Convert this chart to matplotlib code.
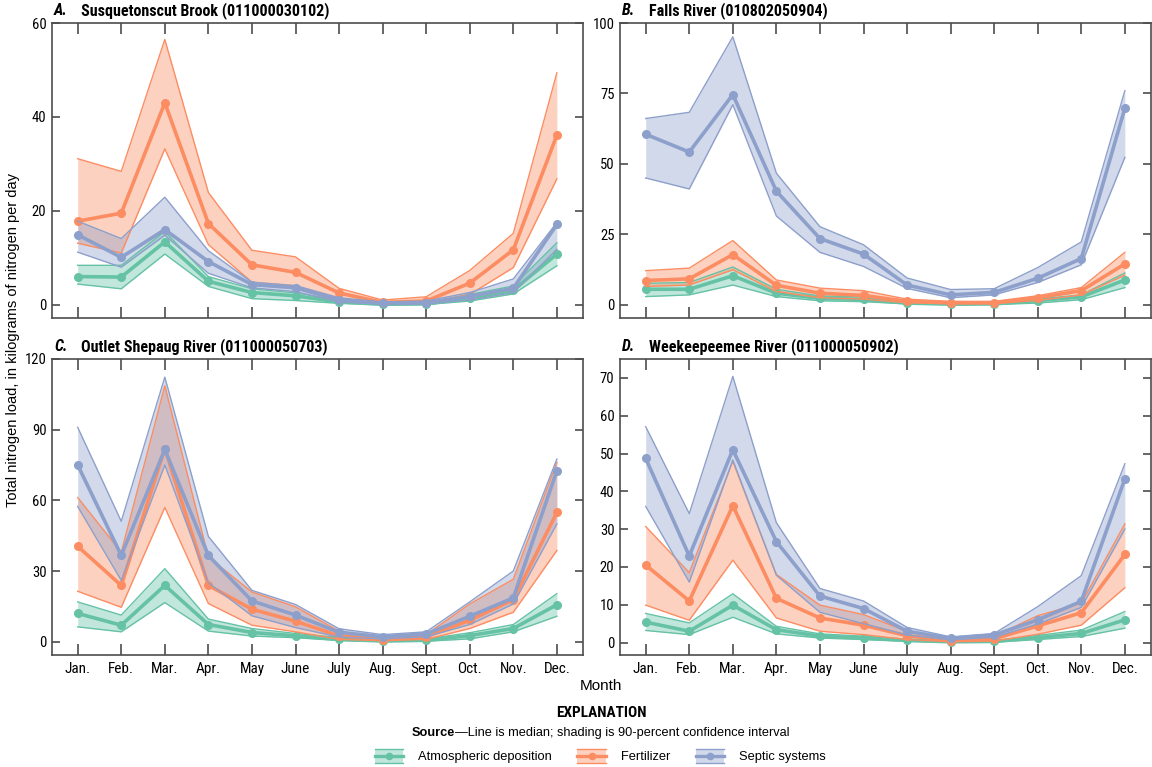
import numpy as np
import matplotlib.pyplot as plt
from matplotlib.lines import Line2D
from matplotlib.patches import Rectangle
from matplotlib.legend_handler import HandlerBase
from matplotlib.offsetbox import TextArea, HPacker, AnnotationBbox

months = ["Jan.", "Feb.", "Mar.", "Apr.", "May", "June",
          "July", "Aug.", "Sept.", "Oct.", "Nov.", "Dec."]

# A. Susquetonscut Brook
a_atm_med = [6.0, 5.9, 13.4, 5.0, 2.6, 1.9, 0.6, 0.1, 0.2, 1.4, 3.1, 10.8]
a_atm_lo = [4.4, 3.4, 10.8, 3.9, 1.3, 0.9, 0.3, 0.0, 0.05, 0.8, 2.3, 8.3]
a_atm_hi = [8.4, 8.4, 15.6, 6.0, 3.4, 2.5, 1.0, 0.3, 0.4, 2.2, 4.0, 13.2]
a_fert_med = [17.8, 19.5, 43.0, 17.3, 8.5, 6.9, 2.5, 0.5, 0.8, 4.6, 11.7, 36.1]
a_fert_lo = [13.1, 11.0, 33.2, 12.8, 4.8, 4.0, 1.2, 0.2, 0.3, 2.2, 7.9, 26.8]
a_fert_hi = [31.1, 28.4, 56.5, 23.9, 11.6, 10.2, 3.5, 1.0, 1.7, 7.3, 15.2, 49.4]
a_sep_med = [14.9, 10.1, 16.0, 9.2, 4.3, 3.6, 1.0, 0.3, 0.4, 1.8, 3.5, 17.1]
a_sep_lo = [11.2, 8.0, 14.8, 6.7, 3.6, 2.8, 0.6, 0.1, 0.2, 1.0, 2.6, 11.8]
a_sep_hi = [17.8, 14.1, 22.9, 11.5, 4.8, 4.1, 1.5, 0.6, 0.8, 2.6, 5.5, 17.5]

# B. Falls River
b_atm_med = [5.5, 5.5, 10.3, 4.1, 2.3, 1.9, 0.6, 0.2, 0.3, 1.5, 2.8, 8.8]
b_atm_lo = [2.9, 3.5, 7.0, 2.9, 1.4, 1.1, 0.3, 0.1, 0.1, 0.6, 1.8, 6.1]
b_atm_hi = [7.6, 7.9, 13.4, 5.5, 3.1, 2.9, 1.0, 0.4, 0.5, 2.0, 3.5, 11.3]
b_fert_med = [8.6, 9.2, 17.8, 6.9, 4.1, 3.3, 1.2, 0.7, 0.7, 2.5, 5.0, 14.5]
b_fert_lo = [6.5, 7.0, 12.4, 4.7, 2.5, 2.0, 0.7, 0.4, 0.4, 1.5, 3.5, 10.5]
b_fert_hi = [12.1, 13.0, 22.8, 8.8, 5.9, 5.0, 2.0, 1.2, 1.2, 3.2, 6.1, 18.6]
b_sep_med = [60.5, 54.2, 74.6, 40.3, 23.5, 18.0, 7.0, 3.5, 4.4, 9.4, 16.4, 69.8]
b_sep_lo = [45.0, 41.1, 71.0, 31.5, 18.6, 13.6, 5.8, 2.5, 3.5, 7.9, 14.2, 52.3]
b_sep_hi = [66.1, 68.3, 95.1, 46.7, 27.7, 21.3, 9.5, 5.4, 5.7, 13.2, 22.3, 76.0]

# C. Outlet Shepaug River
c_atm_med = [12.0, 7.0, 23.9, 7.3, 3.9, 2.5, 1.0, 0.3, 0.6, 2.6, 5.6, 15.7]
c_atm_lo = [6.3, 4.2, 16.6, 4.5, 2.4, 1.7, 0.5, 0.1, 0.2, 1.2, 4.2, 10.8]
c_atm_hi = [16.9, 11.3, 31.0, 9.6, 5.6, 3.5, 1.8, 0.6, 1.2, 3.8, 7.3, 20.4]
c_fert_med = [40.5, 23.9, 82.0, 23.9, 13.8, 8.7, 2.5, 0.9, 2.1, 9.1, 17.8, 54.9]
c_fert_lo = [21.4, 14.6, 57.0, 16.2, 7.0, 4.2, 1.0, 0.4, 1.0, 5.6, 12.5, 38.7]
c_fert_hi = [61.2, 38.0, 108.6, 35.9, 21.1, 14.8, 4.5, 1.5, 3.0, 16.0, 26.5, 76.1]
c_sep_med = [75.0, 36.6, 81.6, 36.6, 17.3, 11.3, 4.0, 2.1, 3.3, 10.8, 18.6, 72.6]
c_sep_lo = [57.4, 26.0, 75.0, 25.0, 11.0, 6.0, 2.0, 1.2, 2.1, 7.3, 16.0, 50.0]
c_sep_hi = [91.0, 51.1, 112.3, 44.7, 21.8, 15.8, 5.5, 3.0, 4.2, 16.9, 30.0, 77.5]

# D. Weekeepeemee River
d_atm_med = [5.4, 3.0, 9.9, 3.4, 1.7, 1.2, 0.6, 0.2, 0.3, 1.3, 2.4, 6.0]
d_atm_lo = [3.2, 2.1, 6.7, 2.3, 1.2, 0.8, 0.3, 0.1, 0.1, 0.8, 1.6, 3.8]
d_atm_hi = [7.7, 5.2, 12.9, 4.3, 2.3, 1.7, 0.9, 0.4, 0.5, 1.9, 3.3, 8.2]
d_fert_med = [20.5, 11.0, 36.2, 11.7, 6.5, 4.6, 1.8, 0.5, 1.0, 4.4, 7.9, 23.3]
d_fert_lo = [9.9, 5.9, 21.8, 6.5, 3.0, 2.1, 0.8, 0.2, 0.4, 2.2, 4.6, 14.5]
d_fert_hi = [30.7, 18.5, 47.9, 18.0, 9.9, 7.4, 3.0, 1.0, 1.7, 7.1, 10.4, 31.4]
d_sep_med = [48.7, 22.9, 51.0, 26.7, 12.3, 9.0, 3.0, 1.1, 2.0, 6.0, 10.9, 43.3]
d_sep_lo = [36.0, 16.0, 48.3, 17.8, 8.0, 5.0, 2.0, 0.7, 1.4, 4.9, 9.3, 30.0]
d_sep_hi = [57.1, 34.1, 70.4, 31.7, 14.3, 11.0, 4.0, 1.5, 2.4, 9.5, 17.7, 47.3]

source_names = ["Atmospheric deposition", "Fertilizer", "Septic systems"]
source_colors = ["#66c2a5", "#fc8d62", "#8da0cb"]

narrow = ["DejaVu Sans Condensed", "Liberation Sans Narrow", "Roboto Condensed", "Roboto"]
plain = ["Liberation Sans", "DejaVu Sans"]
edge = "#4d4d4d"

x = np.arange(1, 13)


def draw_source(ax, med, lo, hi, color):
    ax.fill_between(x, lo, hi, color=color, alpha=0.4, lw=0)
    ax.plot(x, lo, color=color, lw=1.0)
    ax.plot(x, hi, color=color, lw=1.0)
    ax.plot(x, med, color=color, lw=2.6, marker="o", ms=5.5)


class BandHandler(HandlerBase):
    def create_artists(self, legend, orig_handle, xdescent, ydescent,
                       width, height, fontsize, trans):
        c = orig_handle.get_color()
        x0, y0 = -xdescent, -ydescent
        rect = Rectangle((x0, y0), width, height, facecolor=c, alpha=0.4,
                         lw=0, transform=trans)
        top = Line2D([x0, x0 + width], [y0 + height] * 2, color=c, lw=1.0, transform=trans)
        bot = Line2D([x0, x0 + width], [y0] * 2, color=c, lw=1.0, transform=trans)
        mid = Line2D([x0, x0 + width], [y0 + height / 2] * 2, color=c, lw=2.4, transform=trans)
        dot = Line2D([x0 + width / 2], [y0 + height / 2], color=c, marker="o",
                     ms=4.5, lw=0, transform=trans)
        return [rect, top, bot, mid, dot]


fig = plt.figure(figsize=(11.52, 7.67), dpi=100)

W, H = 1152, 767
panels = [
    ((52, 23, 583, 318), "A.", "Susquetonscut Brook (011000030102)", 60, [0, 20, 40, 60], 60, False,
     [(a_atm_med, a_atm_lo, a_atm_hi), (a_fert_med, a_fert_lo, a_fert_hi), (a_sep_med, a_sep_lo, a_sep_hi)]),
    ((620, 23, 1151, 318), "B.", "Falls River (010802050904)", 100, [0, 25, 50, 75, 100], 100, False,
     [(b_atm_med, b_atm_lo, b_atm_hi), (b_fert_med, b_fert_lo, b_fert_hi), (b_sep_med, b_sep_lo, b_sep_hi)]),
    ((52, 359, 583, 655), "C.", "Outlet Shepaug River (011000050703)", 120, [0, 30, 60, 90, 120], 120, True,
     [(c_atm_med, c_atm_lo, c_atm_hi), (c_fert_med, c_fert_lo, c_fert_hi), (c_sep_med, c_sep_lo, c_sep_hi)]),
    ((620, 359, 1151, 655), "D.", "Weekeepeemee River (011000050902)", 75, list(range(0, 80, 10)), 70, True,
     [(d_atm_med, d_atm_lo, d_atm_hi), (d_fert_med, d_fert_lo, d_fert_hi), (d_sep_med, d_sep_lo, d_sep_hi)]),
]

for (l, t, r, b), letter, name, ytop, yticks, yscale, xlab, series in panels:
    ax = fig.add_axes([l / W, 1 - b / H, (r - l) / W, (b - t) / H])
    for (med, lo, hi), col in zip(series, source_colors):
        draw_source(ax, med, lo, hi, col)
    ax.set_xlim(0.41, 12.6)
    ax.set_ylim(-0.047 * yscale, ytop)
    ax.set_yticks(yticks)
    ax.set_xticks(x)
    if xlab:
        ax.set_xticklabels(months, fontsize=11, family=narrow, fontstretch="condensed")
    else:
        ax.set_xticklabels([])
    for lab in ax.get_yticklabels():
        lab.set_fontfamily(narrow)
        lab.set_fontstretch("condensed")
        lab.set_fontsize(10.5)
    ax.tick_params(axis="x", direction="in", length=8, width=1.2, color=edge,
                   top=True, pad=5)
    ax.tick_params(axis="y", direction="in", length=6, width=1.2, color=edge,
                   right=True, pad=4)
    for sp in ax.spines.values():
        sp.set_color(edge)
        sp.set_linewidth(1.2)
    ax.text(0.004, 1.042, letter, transform=ax.transAxes, fontsize=11.5,
            fontweight="bold", fontstyle="italic", family=narrow,
            fontstretch="condensed", va="center")
    ax.text(0.055, 1.042, name, transform=ax.transAxes, fontsize=11.5,
            fontweight="bold", family=narrow, fontstretch="condensed", va="center")

fig.text(0.011, 0.557, "Total nitrogen load, in kilograms of nitrogen per day",
         rotation=90, va="center", ha="center", fontsize=10.5, family=plain)
fig.text(0.522, 0.106, "Month", ha="center", va="center", fontsize=11, family=plain)
fig.text(0.522, 0.0704, "EXPLANATION", ha="center", va="center", fontsize=11,
         fontweight="bold", family=narrow, fontstretch="condensed")

src = HPacker(children=[
    TextArea("Source", textprops=dict(fontsize=9.2, fontweight="bold", family=plain)),
    TextArea("\u2014Line is median; shading is 90-percent confidence interval",
             textprops=dict(fontsize=9.2, family=plain)),
], sep=0, align="baseline")
fig.add_artist(AnnotationBbox(src, (0.521, 0.0443), xycoords="figure fraction",
                              frameon=False, box_alignment=(0.5, 0.5), pad=0))

handles = [Line2D([], [], color=c) for c in source_colors]
fig.legend(handles, source_names, handler_map={Line2D: BandHandler()},
           loc="center", bbox_to_anchor=(0.521, 0.0143), ncol=3, frameon=False,
           prop=dict(family=plain, size=9.3), handlelength=2.2, handleheight=1.35,
           handletextpad=1.15, columnspacing=2.0)

fig.savefig("out.png", dpi=100)
